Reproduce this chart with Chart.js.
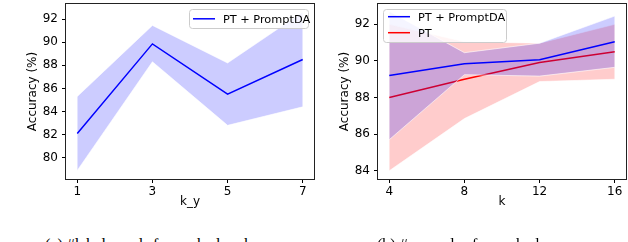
<!DOCTYPE html>
<html>
<head>
<meta charset="utf-8">
<script src="https://cdn.jsdelivr.net/npm/chart.js@4"></script>
<style>
  html, body { margin: 0; padding: 0; background: #fff; }
  body { width: 628px; height: 242px; overflow: hidden; position: relative; }
  canvas { position: absolute; top: 0; }
  #chartA { left: 0; }
  #chartB { left: 312px; }
  .cap { position: absolute; top: 236px; font-family: "Liberation Serif", serif; font-size: 16px; color: #000; white-space: nowrap; }
</style>
</head>
<body>
<canvas id="chartA" width="316" height="215"></canvas>
<canvas id="chartB" width="316" height="215"></canvas>
<div class="cap" style="left:45px">(a) #label words for each class k_y</div>
<div class="cap" style="left:377px">(b) #examples for each class</div>
<script>
// (a) k_y sweep
const kyValues = [1, 3, 5, 7];
const kyMean = [82.1, 89.85, 85.5, 88.5];
const kyUpper = [85.3, 91.45, 88.2, 92.6];
const kyLower = [78.9, 88.3, 82.8, 84.4];
const kyTicksY = [80, 82, 84, 86, 88, 90, 92];

// (b) k sweep
const kValues = [4, 8, 12, 16];
const daMean = [89.2, 89.85, 90.07, 91.05];
const daUpper = [92.7, 90.45, 90.97, 92.45];
const daLower = [85.7, 89.25, 89.17, 89.65];
const ptMean = [88.0, 89.0, 89.92, 90.5];
const ptUpper = [92.0, 91.05, 90.97, 92.0];
const ptLower = [84.0, 86.85, 88.87, 89.0];
const kTicksY = [84, 86, 88, 90, 92];

const FONT = { family: "DejaVu Sans", size: 12 };
const LEGEND_FONT = '11.3px "DejaVu Sans"';

const pts = (xs, ys) => xs.map((x, i) => ({ x, y: ys[i] }));

function band(xs, lower, upper, fillColor) {
    const edge = 'rgba(255,255,255,0.6)';
    return [
        { data: pts(xs, lower), borderColor: edge, borderWidth: 1, pointRadius: 0, fill: false, legendSkip: true },
        { data: pts(xs, upper), borderColor: edge, borderWidth: 1, pointRadius: 0, fill: '-1', backgroundColor: fillColor, legendSkip: true }
    ];
}

function line(label, xs, ys, color) {
    return { label, data: pts(xs, ys), borderColor: color, borderWidth: 1.5, pointRadius: 0, fill: false, tension: 0 };
}

// black frame round the plot area, like matplotlib spines
const framePlugin = {
    id: 'frame',
    afterDraw(chart) {
        const a = chart.chartArea;
        const ctx = chart.ctx;
        ctx.save();
        ctx.strokeStyle = '#222';
        ctx.lineWidth = 1;
        ctx.strokeRect(a.left - 0.5, a.top - 0.5, a.right - a.left + 1, a.bottom - a.top + 1);
        ctx.restore();
    }
};

// legend box placed inside the plot
const boxLegend = {
    id: 'boxLegend',
    afterDraw(chart, args, o) {
        if (!o || !o.box) return;
        const ctx = chart.ctx;
        const b = o.box;
        ctx.save();
        ctx.beginPath();
        ctx.roundRect(b.x + 0.5, b.y + 0.5, b.w, b.h, 3);
        ctx.fillStyle = 'rgba(255,255,255,0.8)';
        ctx.fill();
        ctx.strokeStyle = '#cccccc';
        ctx.lineWidth = 1;
        ctx.stroke();
        const items = chart.data.datasets.filter(d => !d.legendSkip);
        ctx.font = LEGEND_FONT;
        ctx.textBaseline = 'middle';
        ctx.fillStyle = '#000';
        items.forEach((d, i) => {
            const y = o.rowY[i];
            ctx.beginPath();
            ctx.strokeStyle = d.borderColor;
            ctx.lineWidth = 1.5;
            ctx.moveTo(o.lineX[0], y);
            ctx.lineTo(o.lineX[1], y);
            ctx.stroke();
            ctx.fillText(d.label, o.textX, y + 1);
        });
        ctx.restore();
    }
};

function makeChart(id, datasets, xTitle, xs, xMin, xMax, yTicks, yMin, yMax, legend) {
    return new Chart(document.getElementById(id), {
        type: 'line',
        data: { datasets },
        plugins: [framePlugin, boxLegend],
        options: {
            responsive: false,
            animation: false,
            devicePixelRatio: 1,
            layout: { padding: { top: 4, right: 2, left: 0, bottom: 0 } },
            plugins: { legend: { display: false }, tooltip: { enabled: false }, boxLegend: legend },
            scales: {
                x: {
                    type: 'linear', min: xMin, max: xMax,
                    afterBuildTicks: s => { s.ticks = xs.map(v => ({ value: v })); },
                    afterFit: s => { s.height = 36; s.paddingLeft = 0; s.paddingRight = 0; },
                    ticks: { font: FONT, color: '#000', padding: 2, maxRotation: 0 },
                    grid: { drawOnChartArea: false, drawTicks: true, tickLength: 4, color: '#000' },
                    border: { display: false },
                    title: { display: true, text: xTitle, font: FONT, color: '#000', padding: { top: 0, bottom: 6 } }
                },
                y: {
                    min: yMin, max: yMax,
                    afterBuildTicks: s => { s.ticks = yTicks.map(v => ({ value: v })); },
                    afterFit: s => { s.width = 66; s.paddingTop = 0; s.paddingBottom = 0; },
                    ticks: { font: FONT, color: '#000', padding: 4 },
                    grid: { drawOnChartArea: false, drawTicks: true, tickLength: 4, color: '#000' },
                    border: { display: false },
                    title: { display: true, text: 'Accuracy (%)', font: FONT, color: '#000', padding: { top: 26, bottom: 0 } }
                }
            }
        }
    });
}

makeChart('chartA',
    [...band(kyValues, kyLower, kyUpper, 'rgba(0,0,255,0.2)'), line('PT + PromptDA', kyValues, kyMean, '#0000ff')],
    'k_y', kyValues, 0.7, 7.3, kyTicksY, 78.16, 93.3,
    { box: { x: 189, y: 9, w: 119, h: 19 }, rowY: [18.8], lineX: [193, 215], textX: 223 });

makeChart('chartB',
    [...band(kValues, daLower, daUpper, 'rgba(0,0,255,0.2)'), line('PT + PromptDA', kValues, daMean, '#0000ff'),
     ...band(kValues, ptLower, ptUpper, 'rgba(255,0,0,0.2)'), line('PT', kValues, ptMean, '#ff0000')],
    'k', kValues, 3.4, 16.6, kTicksY, 83.55, 93.11,
    { box: { x: 71, y: 9, w: 123, h: 33 }, rowY: [16.7, 32.7], lineX: [76, 98], textX: 106 });
</script>
</body>
</html>
